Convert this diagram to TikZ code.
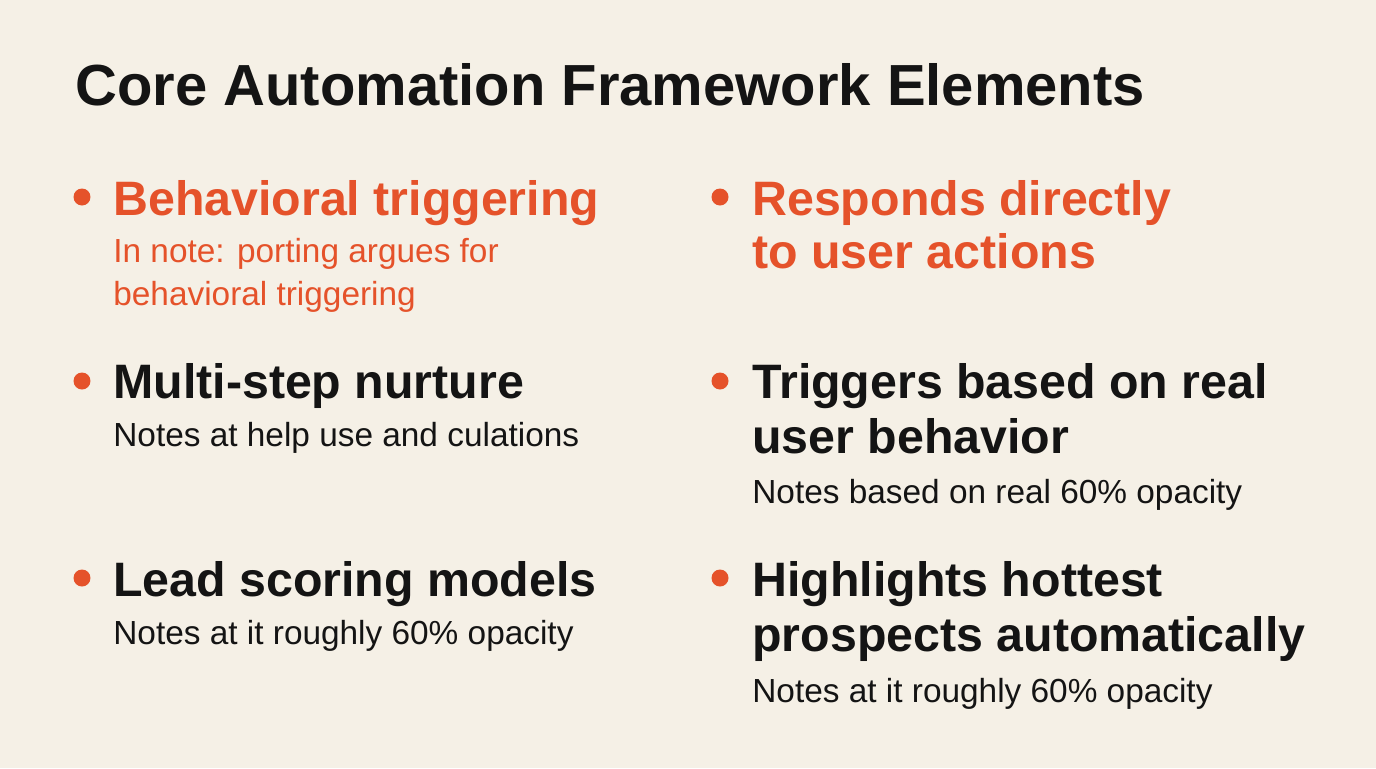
\documentclass[tikz,border=0pt]{standalone}
\usepackage{fontspec}
\setmainfont{Liberation Sans}
\usepackage{xcolor}
\definecolor{bgCream}{HTML}{F5F0E6}
\definecolor{accOrange}{HTML}{E5522A}
\definecolor{inkDark}{HTML}{141414}
\tikzset{
    tsTitle/.style={anchor=base west, inner sep=0pt, text=inkDark, font=\fontsize{33}{38}\selectfont\bfseries},
    tsHead/.style={anchor=base west, inner sep=0pt, text=inkDark, font=\fontsize{27.5}{32}\selectfont\bfseries},
    tsNote/.style={anchor=base west, inner sep=0pt, text=inkDark, font=\fontsize{19}{23}\selectfont},
    tsDot/.style={circle, fill=accOrange, inner sep=0pt, minimum size=0.34cm}
}
\begin{document}
\begin{tikzpicture}[x=0.02cm, y=-0.02cm]
    \fill[bgCream] (0,0) rectangle (1376,768);
    \useasboundingbox (0,0) rectangle (1376,768);

    \node[tsTitle] (title) at (75,105) {Core Automation Framework Elements};

    % Left column
    \node[tsDot] (d1) at (82,197) {};
    \node[tsHead, text=accOrange] (h1) at (113,215) {Behavioral triggering};
    \node[tsNote, text=accOrange] (n1a) at (113,262) {In note: porting argues for};
    \node[tsNote, text=accOrange] (n1b) at (113,305) {behavioral triggering};

    \node[tsDot] (d2) at (82,381) {};
    \node[tsHead] (h2) at (113,398) {Multi-step nurture};
    \node[tsNote] (n2) at (113,446) {Notes at help use and culations};

    \node[tsDot] (d3) at (82,578) {};
    \node[tsHead] (h3) at (113,596) {Lead scoring models};
    \node[tsNote] (n3) at (113,644) {Notes at it roughly 60\% opacity};

    % Right column
    \node[tsDot] (d4) at (720,197) {};
    \node[tsHead, text=accOrange] (h4a) at (752,215) {Responds directly};
    \node[tsHead, text=accOrange] (h4b) at (752,268) {to user actions};

    \node[tsDot] (d5) at (720,381) {};
    \node[tsHead] (h5a) at (752,398) {Triggers based on real};
    \node[tsHead] (h5b) at (752,453) {user behavior};
    \node[tsNote] (n5) at (752,503) {Notes based on real 60\% opacity};

    \node[tsDot] (d6) at (720,578) {};
    \node[tsHead] (h6a) at (752,596) {Highlights hottest};
    \node[tsHead] (h6b) at (752,651) {prospects automatically};
    \node[tsNote] (n6) at (752,702) {Notes at it roughly 60\% opacity};
\end{tikzpicture}
\end{document}
